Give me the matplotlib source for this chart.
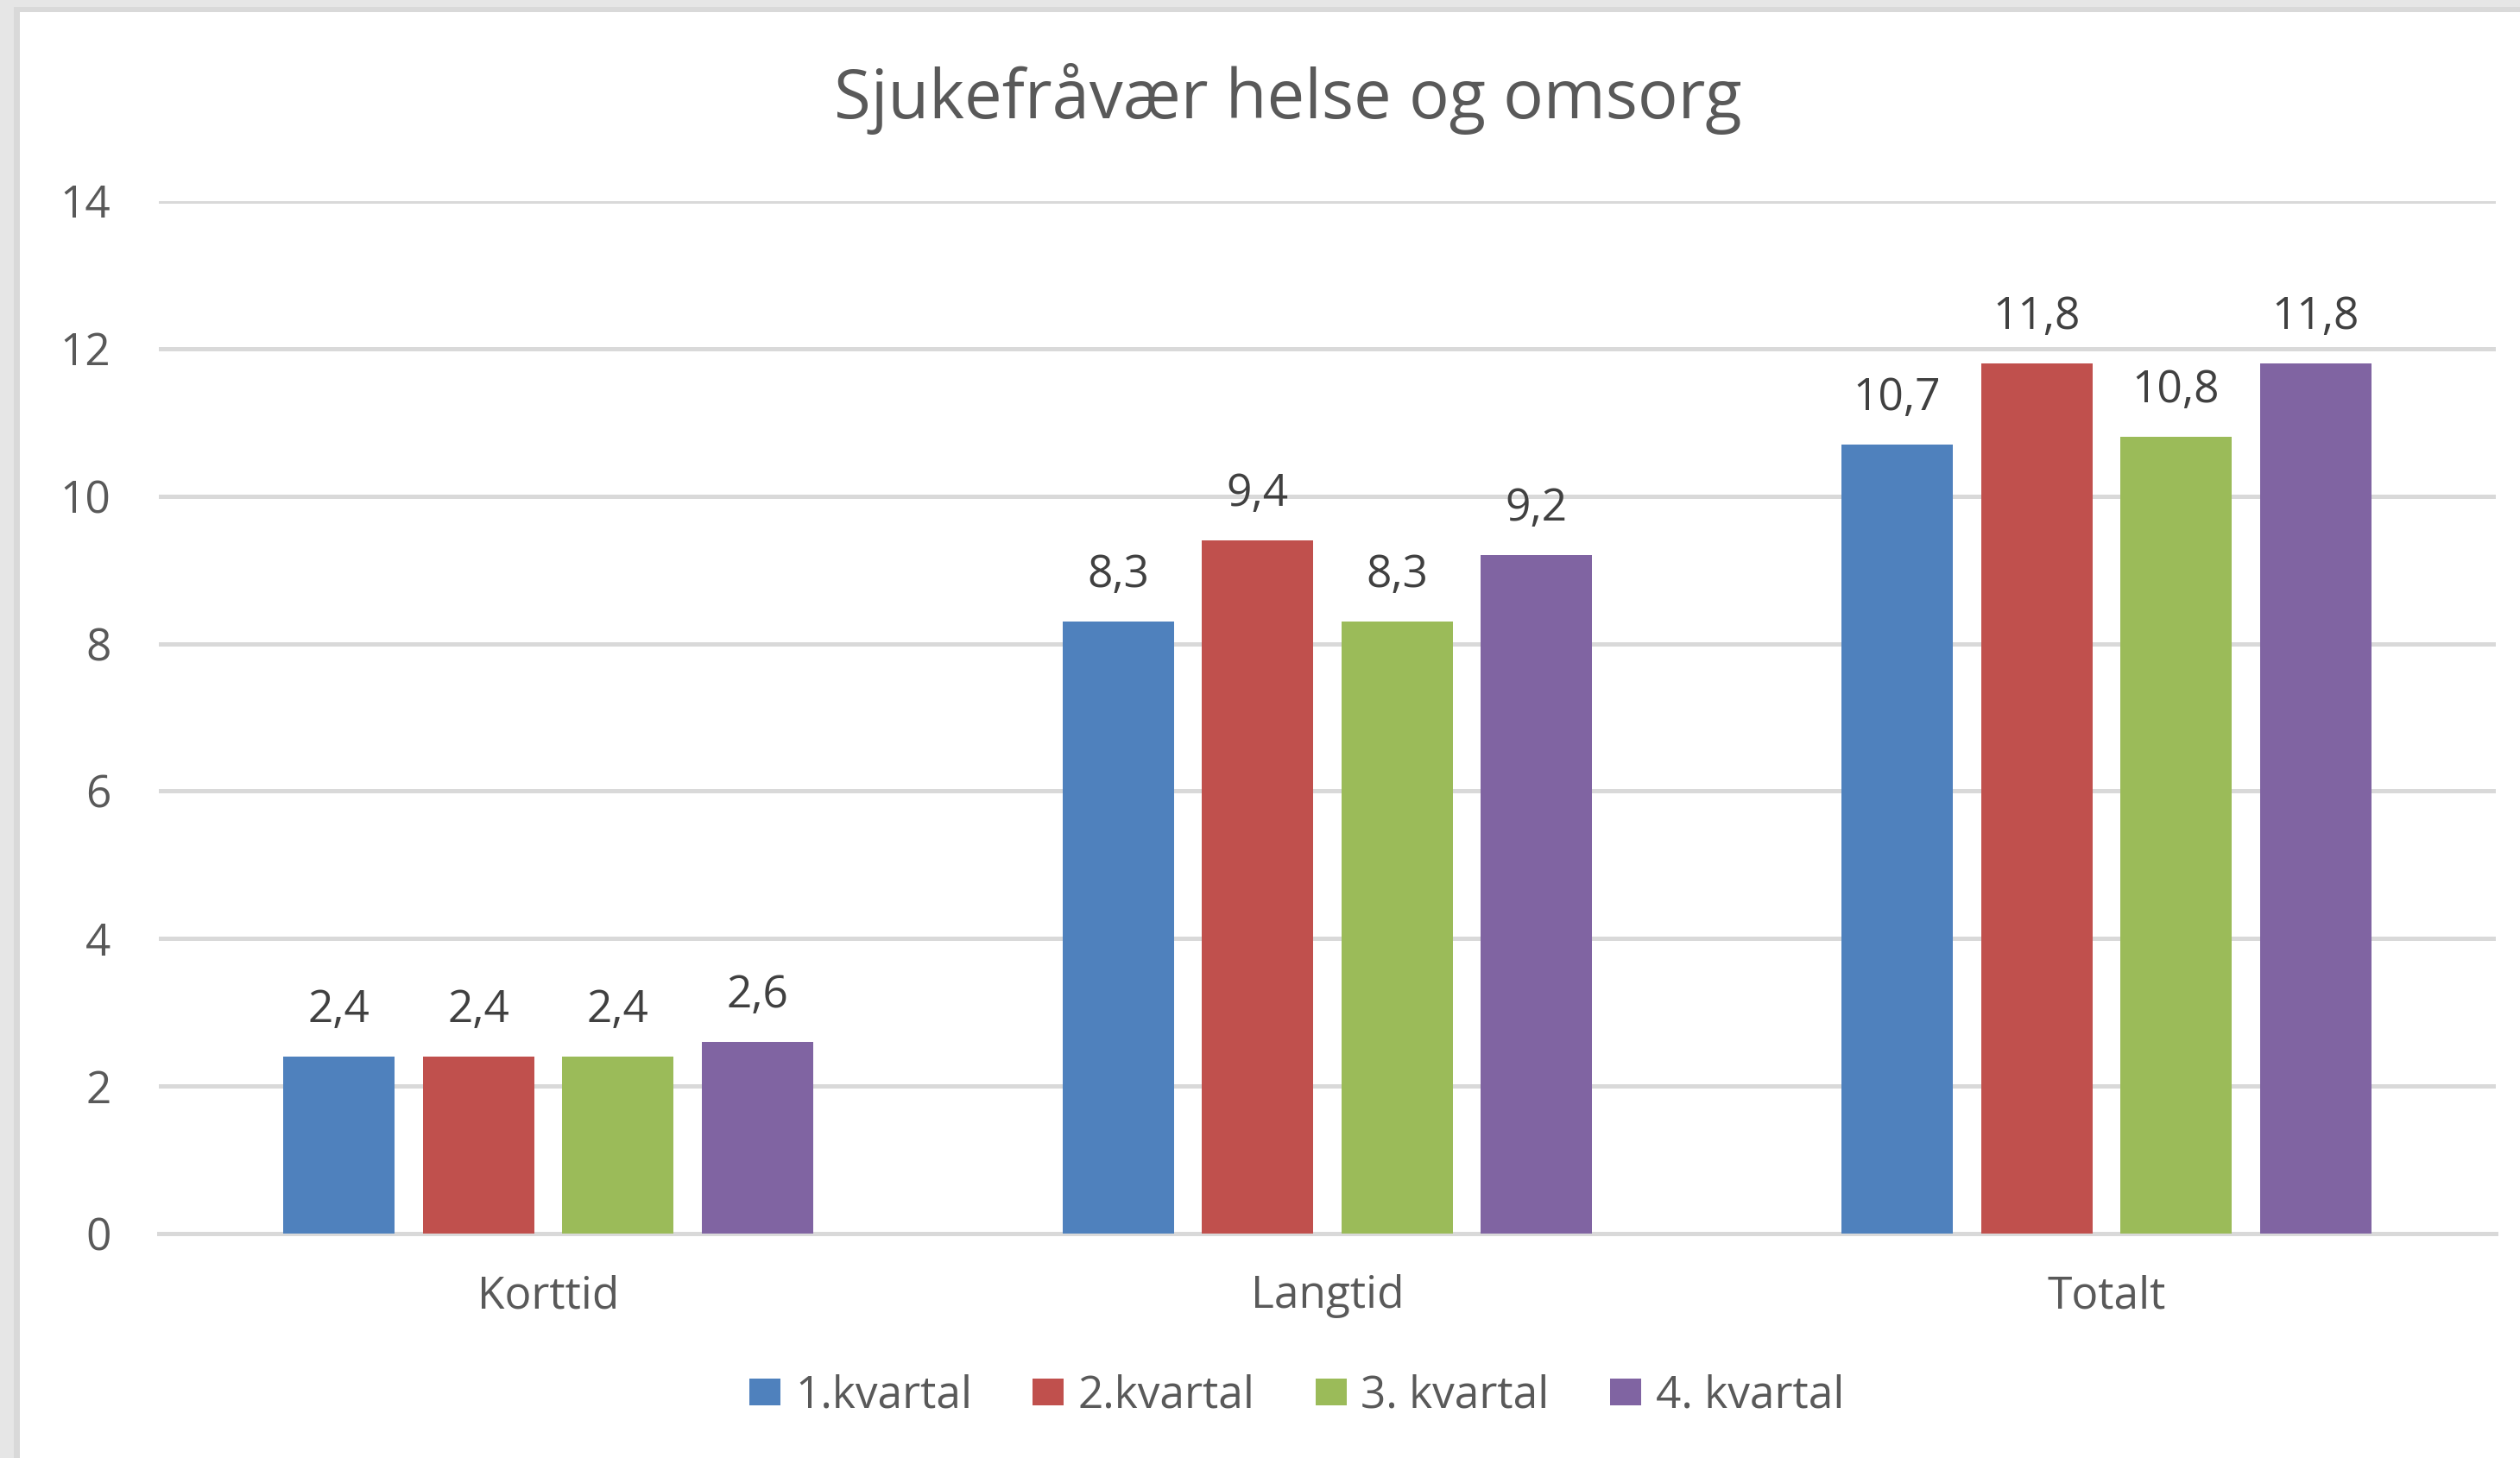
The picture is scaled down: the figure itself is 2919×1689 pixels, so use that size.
import matplotlib
matplotlib.use('Agg')
import matplotlib.pyplot as plt
from matplotlib.patches import Rectangle
import numpy as np

categories = ['Korttid', 'Langtid', 'Totalt']
series_names = ['1.kvartal', '2.kvartal', '3. kvartal', '4. kvartal']
q1 = [2.4, 8.3, 10.7]
q2 = [2.4, 9.4, 11.8]
q3 = [2.4, 8.3, 10.8]
q4 = [2.6, 9.2, 11.8]
y_ticks = [0, 2, 4, 6, 8, 10, 12, 14]
title = 'Sjukefråvær helse og omsorg'

COLORS = ['#4F81BD', '#C0504D', '#9BBB59', '#8064A2']
GRID = '#D9D9D9'
TEXT = '#595959'
LABEL = '#404040'

W, H, DPI = 2919, 1689, 100
FS = 37


def fmt(v):
    return f'{v:.1f}'.replace('.', ',')


def draw_border(fig):
    # grey frame on the left and top, like the cropped Excel screenshot
    fig.patches.append(Rectangle((0, 0), 16 / W, 1, transform=fig.transFigure,
                                 facecolor='#E6E6E6', edgecolor='none', zorder=0))
    fig.patches.append(Rectangle((16 / W, 0), 7 / W, 1 - 8 / H, transform=fig.transFigure,
                                 facecolor='#D9D9D9', edgecolor='none', zorder=0))
    fig.patches.append(Rectangle((0, 1 - 8 / H), 1, 8 / H, transform=fig.transFigure,
                                 facecolor='#E6E6E6', edgecolor='none', zorder=0))
    fig.patches.append(Rectangle((16 / W, 1 - 14 / H), 1, 6 / H, transform=fig.transFigure,
                                 facecolor='#D9D9D9', edgecolor='none', zorder=0))


def main():
    plt.rcParams['font.family'] = ['Open Sans', 'DejaVu Sans']
    fig = plt.figure(figsize=(W / DPI, H / DPI), dpi=DPI)
    draw_border(fig)

    ax = fig.add_axes([184 / W, 1 - 1429 / H, (2891 - 184) / W, (1429 - 233) / H])
    ax.set_facecolor('none')

    x = np.arange(len(categories))
    width = 0.143
    step = 0.179
    all_series = [q1, q2, q3, q4]
    for i, values in enumerate(all_series):
        pos = x + (i - 1.5) * step
        bars = ax.bar(pos, values, width=width, color=COLORS[i], label=series_names[i], zorder=3)
        for b, v in zip(bars, values):
            ax.annotate(fmt(v), (b.get_x() + b.get_width() / 2, v),
                        xytext=(0, 29), textcoords='offset points',
                        ha='center', va='baseline', fontsize=FS, color=LABEL)

    ax.set_xlim(-0.5, len(categories) - 0.5)
    ax.set_ylim(0, 14)
    ax.set_yticks(y_ticks)
    ax.set_yticklabels([str(t) for t in y_ticks])
    ax.set_xticks(x)
    ax.set_xticklabels(categories)
    ax.tick_params(axis='y', length=0, pad=40, labelsize=FS, labelcolor=TEXT)
    ax.tick_params(axis='x', length=0, pad=34, labelsize=FS, labelcolor=TEXT)

    ax.grid(axis='y', color=GRID, linewidth=3.6, zorder=1)
    for side in ['top', 'right', 'left']:
        ax.spines[side].set_visible(False)
    ax.spines['bottom'].set_color(GRID)
    ax.spines['bottom'].set_linewidth(3.6)
    ax.spines['bottom'].set_zorder(2)

    fig.text(1492 / W, 1 - 137 / H, title, ha='center', va='baseline',
             fontsize=56, color=TEXT)

    fig.legend(loc='center', bbox_to_anchor=(1502 / W, 1 - 1617 / H), ncol=4,
               frameon=False, fontsize=FS, labelcolor=TEXT,
               handlelength=0.70, handleheight=0.545, handletextpad=0.33,
               columnspacing=1.36)

    fig.savefig('out.png', dpi=DPI, facecolor='white')


if __name__ == '__main__':
    main()
